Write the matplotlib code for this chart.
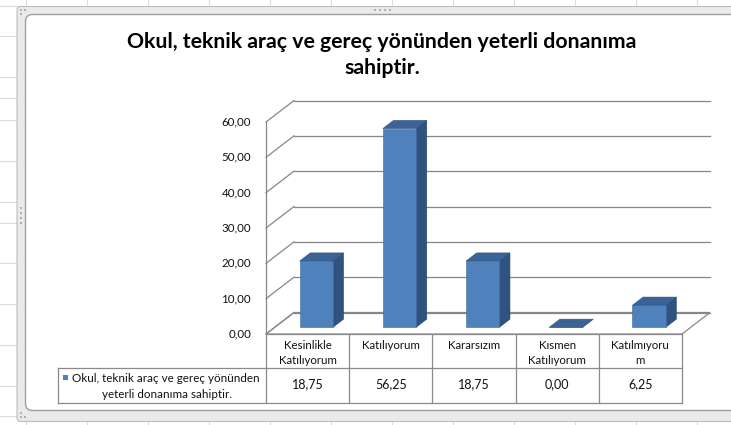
import matplotlib
matplotlib.use('Agg')
import matplotlib.pyplot as plt
from matplotlib.patches import Polygon, Rectangle, FancyBboxPatch

plt.rcParams['font.family'] = ['Lato', 'DejaVu Sans']

# veriler
title = 'Okul, teknik araç ve gereç yönünden yeterli donanıma\nsahiptir.'
series_name = ['Okul, teknik araç ve gereç yönünden', 'yeterli donanıma sahiptir.']
categories = ['Kesinlikle\nKatılıyorum', 'Katılıyorum', 'Kararsızım', 'Kısmen\nKatılıyorum', 'Katılmıyoru\nm']
values = [18.75, 56.25, 18.75, 0.00, 6.25]
yticks = [0, 10, 20, 30, 40, 50, 60]


def fmt(v):
    return ('%.2f' % v).replace('.', ',')


W, H = 731, 425
fig = plt.figure(figsize=(W / 100, H / 100), dpi=100)

# arka plandaki excel sayfasi (piksel koordinatlari)
bg = fig.add_axes([0, 0, 1, 1])
bg.set_xlim(0, W)
bg.set_ylim(H, 0)
bg.axis('off')
for x in range(26, W, 61):
    bg.plot([x, x], [0, H], color='#DCDCDC', lw=0.8, zorder=0)
for y in [6, 36, 77, 98, 120, 161, 202, 223, 263, 304, 345, 386, 416]:
    bg.plot([0, W], [y, y], color='#DCDCDC', lw=0.8, zorder=0)

# grafik cercevesi
bg.add_patch(FancyBboxPatch((17, 6.5), W + 20, 415, boxstyle='round,pad=0,rounding_size=4',
                            facecolor='#EAEAEA', edgecolor='#BDBDBD', lw=0.8, zorder=1))
bg.add_patch(FancyBboxPatch((25.5, 14.5), W + 20, 396, boxstyle='round,pad=0,rounding_size=7',
                            facecolor='white', edgecolor='#A0A0A0', lw=1.0, zorder=1.5))
for k in range(4):
    bg.add_patch(Rectangle((374 + 5 * k, 8.5), 2, 2, color='#B0B0B0', lw=0, zorder=2))
    bg.add_patch(Rectangle((19.5, 207 + 5 * k), 2, 2, color='#B0B0B0', lw=0, zorder=2))
for cx, cy in [(19.5, 9), (23.5, 9), (19.5, 13), (19.5, 412), (23.5, 416), (19.5, 416)]:
    bg.add_patch(Rectangle((cx, cy), 2, 2, color='#B0B0B0', lw=0, zorder=2))

# baslik
bg.text(382, 55, title, ha='center', va='center', fontsize=15.3, fontweight='bold',
        color='black', linespacing=1.35, zorder=3)

# grafik alani: on duzlem
x0_px, y0_px, cat_px, top_px = 266, 334, 83.2, 122
ax = fig.add_axes([x0_px / W, (H - y0_px) / H, 5 * cat_px / W, (y0_px - top_px) / H])
ax.set_xlim(0, len(categories))
ax.set_ylim(0, 60)
ax.axis('off')

DX = 28 / cat_px
DY = 21.5 * 60 / (y0_px - top_px)
grid_c = '#878787'
n = len(categories)
txt_c = '#111111'

# zemin
ax.add_patch(Polygon([(0, 0), (n, 0), (n + DX, DY), (DX, DY)], closed=True,
                     facecolor='white', edgecolor=grid_c, lw=0.9, clip_on=False, zorder=1))
# arka duvar cizgileri ve sol duvar
for v in yticks:
    ax.plot([DX, n + DX], [v + DY, v + DY], color=grid_c, lw=0.9, clip_on=False, zorder=2)
    ax.plot([0, DX], [v, v + DY], color=grid_c, lw=0.9, clip_on=False, zorder=2)
    ax.text(-0.18, v, fmt(v), ha='right', va='center', fontsize=8.3, color=txt_c)
ax.plot([0, 0], [0, 60], color=grid_c, lw=0.9, clip_on=False, zorder=2)

# 3B sutunlar
bw = 0.4
d0, d1 = 0.31, 0.69
front_c, side_c, top_c = '#4F81BD', '#30527E', '#3B6396'
for i, v in enumerate(values):
    bx = i + 0.5 - bw / 2 + d0 * DX
    by = d0 * DY
    ddx, ddy = (d1 - d0) * DX, (d1 - d0) * DY
    side = [(bx + bw, by), (bx + bw + ddx, by + ddy), (bx + bw + ddx, by + ddy + v), (bx + bw, by + v)]
    top = [(bx, by + v), (bx + bw, by + v), (bx + bw + ddx, by + ddy + v), (bx + ddx, by + ddy + v)]
    ax.add_patch(Polygon(side, closed=True, facecolor=side_c, edgecolor='#2A4870', lw=0.4,
                         clip_on=False, zorder=4))
    ax.add_patch(Rectangle((bx, by), bw, v, facecolor=front_c, edgecolor='#3F6A9E', lw=0.4,
                           clip_on=False, zorder=4))
    ax.add_patch(Polygon(top, closed=True, facecolor=top_c, edgecolor='#2F5280', lw=0.4,
                         clip_on=False, zorder=4))

# veri tablosu (piksel koordinatlari)
tbl_c = '#8A8A8A'
row1, row2, row3 = y0_px, 367.7, 402.7
left_px = 57.7
right_px = x0_px + n * cat_px
bg.plot([x0_px, right_px], [row1, row1], color=tbl_c, lw=0.9, zorder=3)
bg.plot([left_px, right_px], [row2, row2], color=tbl_c, lw=0.9, zorder=3)
bg.plot([left_px, right_px], [row3, row3], color=tbl_c, lw=0.9, zorder=3)
bg.plot([left_px, left_px], [row2, row3], color=tbl_c, lw=0.9, zorder=3)
for i in range(n + 1):
    xx = x0_px + i * cat_px
    bg.plot([xx, xx], [row1, row3], color=tbl_c, lw=0.9, zorder=3)

for i, (c, v) in enumerate(zip(categories, values)):
    cx = x0_px + (i + 0.5) * cat_px
    for j, line in enumerate(c.split('\n')):
        bg.text(cx, 345.5 + 15 * j, line, ha='center', va='center', fontsize=8.3, color=txt_c, zorder=3)
    bg.text(cx, 384.5, fmt(v), ha='center', va='center', fontsize=9, color=txt_c, zorder=3)

bg.add_patch(Rectangle((62.5, 374.5), 5.5, 5.5, facecolor=front_c, edgecolor='none', zorder=3))
bg.text(165.5, 378, series_name[0], ha='center', va='center', fontsize=8.4, color=txt_c, zorder=3)
bg.text(167, 394, series_name[1], ha='center', va='center', fontsize=8.4, color=txt_c, zorder=3)

fig.savefig('out.png', dpi=100)
